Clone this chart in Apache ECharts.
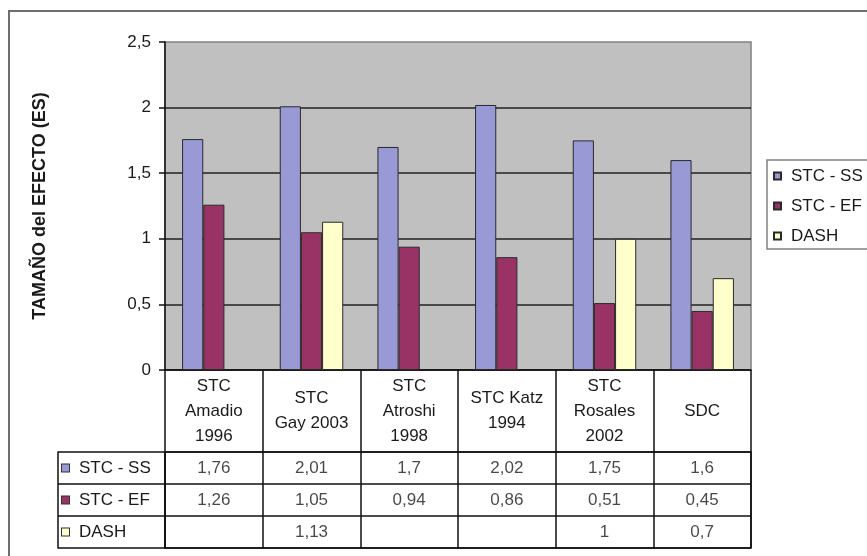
<!DOCTYPE html>
<html>
<head>
<meta charset="utf-8">
<script src="https://cdn.jsdelivr.net/npm/echarts@6/dist/echarts.min.js"></script>
<style>
  html, body { margin: 0; padding: 0; background: #fff; }
  #chart { width: 867px; height: 556px; }
</style>
</head>
<body>
<div id="chart"></div>
<script>
// ---- data ----
const categories = ['STC\nAmadio\n1996', 'STC\nGay 2003', 'STC\nAtroshi\n1998', 'STC Katz\n1994', 'STC\nRosales\n2002', 'SDC'];
const seriesNames = ['STC - SS', 'STC - EF', 'DASH'];
const stcSS = [1.76, 2.01, 1.7, 2.02, 1.75, 1.6];
const stcEF = [1.26, 1.05, 0.94, 0.86, 0.51, 0.45];
const dash  = [null, 1.13, null, null, 1, 0.7];
const yTicks = { min: 0, max: 2.5, interval: 0.5 };

// ---- styling ----
const colors = ['#9999d6', '#993366', '#ffffcc'];
const FONT = "'Liberation Sans', Arial, sans-serif";
const TXT = '#1a1a1a';
const fmt = v => String(v).replace('.', ',');

const valueArrays = [stcSS, stcEF, dash];

const barSeries = valueArrays.map((arr, i) => ({
  name: seriesNames[i],
  type: 'bar',
  xAxisIndex: 0, yAxisIndex: 0,
  data: arr,
  barGap: '0%',
  barCategoryGap: '35%',
  itemStyle: { color: colors[i], borderColor: '#2a2a2a', borderWidth: 1 },
  silent: true
}));

const tableSeries = valueArrays.map((arr, r) => ({
  name: 'tabla ' + seriesNames[r],
  type: 'scatter',
  xAxisIndex: 1, yAxisIndex: 1,
  symbolSize: 1,
  itemStyle: { color: 'rgba(0,0,0,0)' },
  silent: true,
  data: arr.map((v, c) => v == null ? null : [c, r, v]).filter(d => d),
  label: {
    show: true, position: 'inside',
    formatter: p => fmt(p.value[2]),
    fontSize: 17, color: TXT, fontFamily: FONT
  }
}));

const rich = { t: { fontSize: 17, color: TXT, fontFamily: FONT, padding: [0, 0, 0, 10] } };
colors.forEach((c, i) => {
  rich['k' + i] = { width: 7, height: 7, backgroundColor: c, borderColor: '#333', borderWidth: 1 };
});

const chart = echarts.init(document.getElementById('chart'));
chart.setOption({
  animation: false,
  textStyle: { fontFamily: FONT },
  graphic: [{
    type: 'rect', silent: true, z: -10,
    shape: { x: 9, y: 11, width: 1000, height: 1000 },
    style: { fill: 'none', stroke: '#6e6e6e', lineWidth: 2 }
  }],
  legend: {
    data: seriesNames,
    orient: 'vertical',
    left: 767, top: 160,
    itemWidth: 7, itemHeight: 7, itemGap: 10,
    icon: 'rect',
    padding: [6, 30, 3, 6],
    borderColor: '#808080', borderWidth: 1.5,
    backgroundColor: '#fff',
    selectedMode: false,
    textStyle: { fontSize: 17, lineHeight: 20, color: TXT, fontFamily: FONT, padding: [0, 0, 0, 5] }
  },
  grid: [
    { left: 165, top: 42, width: 586, height: 328, show: true, backgroundColor: '#c0c0c0', borderColor: '#808080', borderWidth: 1.5 },
    { left: 165, top: 452, width: 586, height: 96, show: true, backgroundColor: 'transparent', borderColor: '#111', borderWidth: 1.5 }
  ],
  xAxis: [
    {
      type: 'category', gridIndex: 0, data: categories,
      axisLine: { show: true, lineStyle: { color: '#111', width: 1.5 } },
      axisTick: { show: true, length: 178, alignWithLabel: false, lineStyle: { color: '#111', width: 1.5 } },
      axisLabel: { interval: 0, fontSize: 17, lineHeight: 25, color: TXT, fontFamily: FONT, verticalAlign: 'middle', margin: 41 },
      splitLine: { show: false }
    },
    {
      type: 'category', gridIndex: 1, data: categories,
      axisLine: { show: false }, axisTick: { show: false }, axisLabel: { show: false }, splitLine: { show: false }
    }
  ],
  yAxis: [
    {
      type: 'value', gridIndex: 0,
      min: yTicks.min, max: yTicks.max, interval: yTicks.interval,
      name: 'TAMAÑO del EFECTO (ES)', nameLocation: 'middle', nameGap: 116, nameRotate: 90,
      nameTextStyle: { fontSize: 18, fontWeight: 'bold', color: TXT, fontFamily: FONT },
      axisLine: { show: true, lineStyle: { color: '#111', width: 1.5 } },
      axisTick: { show: true, length: 6, lineStyle: { color: '#111', width: 1.5 } },
      axisLabel: { fontSize: 17, color: TXT, fontFamily: FONT, margin: 14, formatter: v => fmt(v) },
      splitLine: { show: true, showMaxLine: false, lineStyle: { color: '#222', width: 1.5 } }
    },
    {
      type: 'category', gridIndex: 1, data: seriesNames, inverse: true,
      axisLine: { show: true, lineStyle: { color: '#111', width: 1.5 } },
      axisTick: { show: true, length: 107, alignWithLabel: false, lineStyle: { color: '#111', width: 1.5 } },
      axisLabel: {
        align: 'left', margin: 103,
        formatter: (v, i) => '{k' + i + '|}{t|' + v + '}',
        rich: rich
      },
      splitLine: { show: true, lineStyle: { color: '#111', width: 1.5 } }
    },
    {
      type: 'category', gridIndex: 1, data: seriesNames, inverse: true,
      position: 'left', offset: 107,
      axisLine: { show: true, lineStyle: { color: '#111', width: 1.5 } },
      axisTick: { show: false }, axisLabel: { show: false }, splitLine: { show: false }
    }
  ],
  series: barSeries.concat(tableSeries)
});
</script>
</body>
</html>
